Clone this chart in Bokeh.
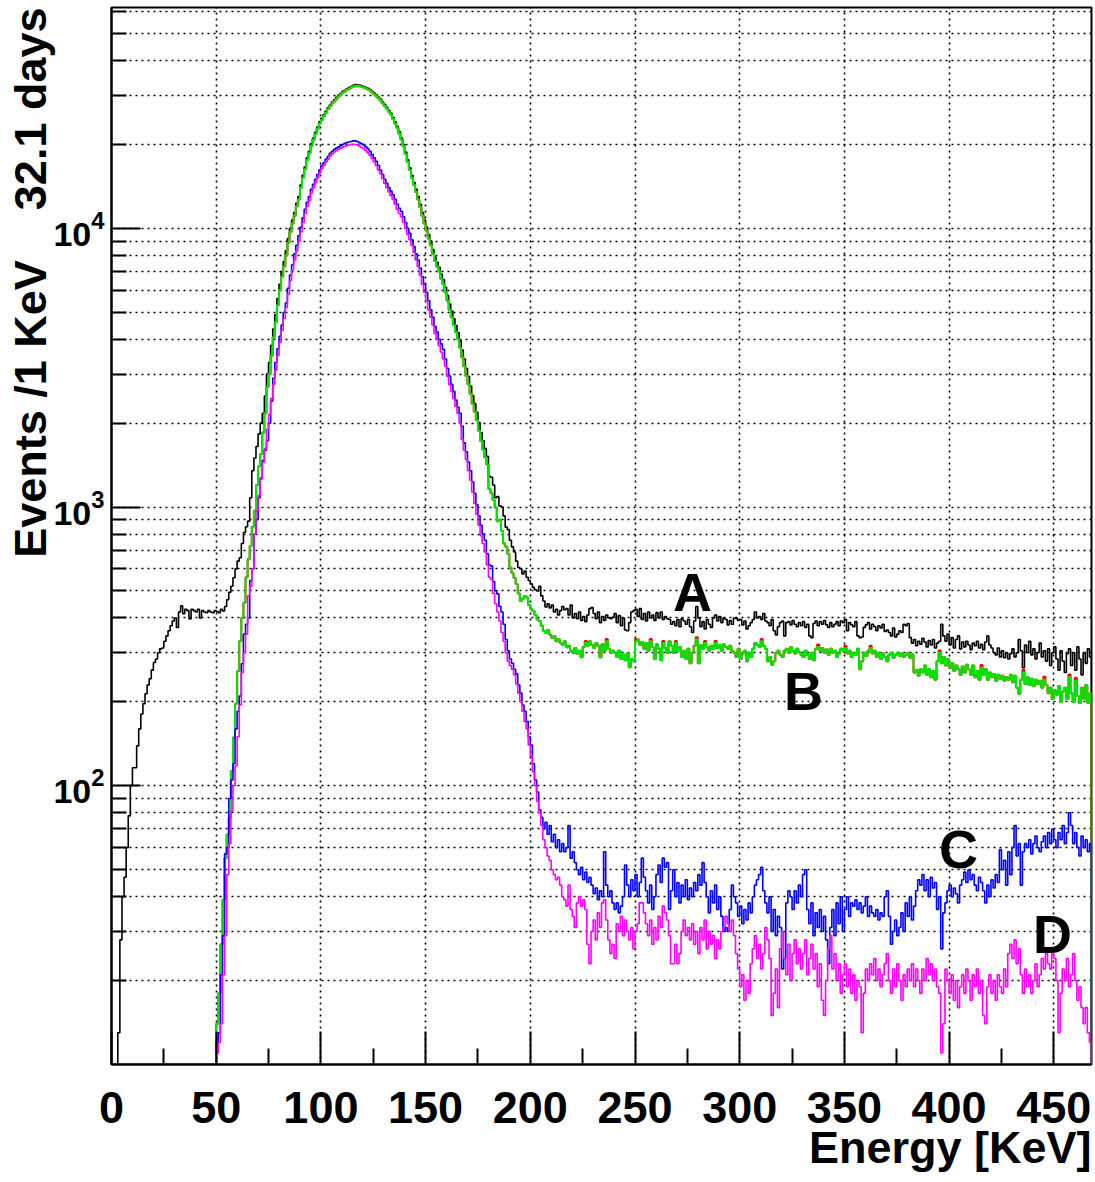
import numpy as np
from bokeh.plotting import figure
from bokeh.models import FixedTicker, LogTickFormatter, Title, Range1d
from bokeh.embed import file_html
from bokeh.resources import INLINE
from bokeh.core.properties import value

# ---------------- data (1 KeV bins, bin i = [i, i+1) KeV) ----------------
E_MIN, E_MAX, BIN_W = 0, 468, 1
Y_MIN, Y_MAX = 10, 62000

a_black = [0, 0, 0, 13, 28, 40, 47, 60, 78, 100,
    116, 116, 139, 160, 181, 197, 214, 230, 242, 260,
    277, 285, 300, 310, 312, 330, 345, 360, 375, 390,
    400, 370, 420, 442, 414, 430, 425, 397, 430, 425,
    420, 430, 400, 425, 420, 418, 425, 420, 418, 425,
    422, 418, 430, 424, 440, 465, 495, 520, 558, 600,
    640, 658, 740, 810, 850, 890, 1080, 1350, 1500, 1650,
    1830, 2000, 2170, 2500, 3000, 3300, 3800, 4350, 4900, 5600,
    6300, 7000, 7600, 8300, 9200, 10000, 10700, 11400, 12300, 13000,
    14300, 15500, 16600, 17900, 18900, 20100, 21100, 22100, 23100, 24100,
    24800, 25600, 26300, 27100, 27700, 28400, 28900, 29500, 30000, 30500,
    31000, 31300, 31700, 32000, 32300, 32600, 32800, 32700, 32700, 32500,
    32300, 32100, 31800, 31500, 31000, 30600, 30100, 29600, 29100, 28400,
    27800, 27200, 26500, 25900, 25000, 24100, 23200, 22200, 21100, 20000,
    18800, 17600, 16500, 15500, 14600, 13800, 13000, 12200, 11400, 10700,
    10100, 9500, 9000, 8400, 7900, 7550, 7250, 6850, 6550, 6150,
    5750, 5350, 5050, 4750, 4480, 4230, 3950, 3660, 3400, 3140,
    2940, 2720, 2510, 2350, 2190, 2010, 1850, 1730, 1620, 1520,
    1290, 1280, 1200, 1080, 1090, 1010, 1000, 930, 847, 830,
    760, 720, 690, 640, 607, 600, 575, 590, 560, 545,
    530, 515, 505, 500, 520, 480, 460, 438, 450, 435,
    445, 420, 430, 410, 425, 440, 428, 432, 410, 445,
    400, 415, 398, 420, 392, 405, 388, 410, 432, 436,
    415, 398, 420, 385, 405, 392, 410, 400, 398, 402,
    415, 385, 408, 375, 400, 362, 360, 385, 420, 425,
    430, 405, 432, 395, 415, 390, 420, 400, 410, 392,
    418, 400, 420, 395, 405, 398, 395, 380, 388, 375,
    395, 372, 398, 390, 380, 395, 372, 355, 390, 440,
    400, 372, 388, 365, 395, 380, 370, 400, 410, 390,
    405, 385, 400, 395, 378, 392, 380, 400, 398, 392,
    395, 378, 390, 365, 375, 385, 395, 420, 400, 405,
    395, 415, 390, 385, 375, 395, 360, 348, 372, 385,
    390, 345, 385, 388, 378, 392, 380, 372, 385, 375,
    388, 370, 380, 345, 340, 382, 390, 375, 388, 380,
    392, 378, 370, 385, 372, 380, 388, 375, 390, 385,
    395, 360, 385, 378, 372, 388, 345, 340, 342, 370,
    378, 385, 365, 380, 372, 360, 375, 368, 380, 358,
    362, 355, 345, 368, 342, 350, 360, 355, 380, 375,
    382, 340, 325, 335, 318, 330, 322, 338, 328, 315,
    332, 320, 335, 312, 325, 330, 380, 345, 330, 350,
    320, 340, 312, 335, 345, 310, 328, 315, 330, 320,
    308, 325, 318, 330, 312, 322, 308, 328, 345, 320,
    312, 300, 295, 312, 290, 305, 288, 300, 285, 298,
    310, 290, 300, 335, 305, 265, 320, 300, 330, 295,
    310, 285, 300, 325, 290, 305, 280, 310, 270, 300,
    315, 285, 260, 305, 280, 255, 298, 310, 270, 300,
    260, 315, 285, 250, 300, 275, 310, 290]

b_green = [0] * 50 + [14, 18, 27, 39, 55, 67, 77, 113, 149, 197,
    258, 330, 400, 454, 560, 650, 725, 850, 970, 1200,
    1400, 1550, 1850, 2170, 2700, 3000, 3500, 4070, 4600, 5300,
    6000, 6700, 7300, 8000, 8900, 9700, 10400, 11100, 12000, 12700,
    14000, 15200, 16300, 17600, 18600, 19800, 20800, 21800, 22800, 23800,
    24500, 25300, 26000, 26800, 27400, 28100, 28600, 29200, 29700, 30200,
    30700, 31000, 31400, 31700, 32000, 32300, 32500, 32400, 32400, 32200,
    32000, 31800, 31500, 31200, 30700, 30300, 29800, 29300, 28800, 28100,
    27500, 26900, 26200, 25600, 24700, 23800, 22900, 21900, 20800, 19700,
    18500, 17300, 16200, 15200, 14300, 13500, 12700, 11900, 11100, 10400,
    9800, 9200, 8700, 8100, 7640, 7300, 7000, 6600, 6300, 5900,
    5500, 5100, 4800, 4500, 4250, 4000, 3730, 3450, 3200, 2950,
    2760, 2550, 2350, 2200, 2050, 1880, 1730, 1610, 1510, 1420,
    1160, 1120, 1060, 995, 890, 900, 820, 740, 720, 680,
    607, 580, 558, 530, 490, 460, 470, 480, 474, 445,
    430, 424, 410, 395, 390, 375, 360, 354, 362, 348,
    340, 345, 330, 336, 325, 320, 330, 314, 318, 305,
    300, 312, 298, 305, 289, 315, 325, 318, 330, 320,
    312, 325, 318, 289, 322, 305, 330, 310, 300, 305,
    300, 290, 305, 285, 295, 282, 298, 266, 285, 280,
    330, 335, 320, 328, 310, 325, 305, 330, 315, 285,
    322, 310, 282, 325, 312, 300, 330, 318, 300, 325,
    305, 315, 290, 305, 285, 310, 275, 300, 318, 335,
    275, 320, 310, 325, 315, 305, 318, 310, 325, 312,
    320, 305, 322, 315, 310, 318, 305, 300, 290, 310,
    285, 298, 305, 280, 300, 290, 310, 325, 320, 315,
    330, 318, 310, 280, 290, 272, 280, 300, 305, 295,
    290, 305, 310, 300, 315, 305, 298, 310, 302, 295,
    290, 305, 295, 285, 300, 282, 310, 315, 305, 312,
    300, 308, 295, 310, 300, 305, 290, 298, 310, 305,
    312, 298, 305, 290, 300, 295, 310, 262, 280, 300,
    292, 305, 312, 298, 305, 290, 300, 285, 298, 290,
    280, 295, 300, 288, 295, 300, 292, 298, 290, 295,
    300, 288, 296, 255, 260, 248, 262, 255, 270, 250,
    262, 245, 258, 240, 280, 300, 275, 290, 270, 285,
    265, 275, 258, 270, 262, 250, 268, 255, 272, 262,
    250, 270, 245, 258, 240, 265, 250, 262, 240, 255,
    245, 252, 238, 250, 242, 248, 238, 245, 240, 250,
    235, 248, 225, 214, 240, 255, 232, 245, 230, 242,
    228, 240, 232, 238, 225, 240, 230, 215, 225, 205,
    220, 212, 228, 200, 218, 225, 205, 245, 215, 200,
    238, 210, 198, 225, 205, 230, 198, 215]

# red histogram: identical to green except a few bins where it is slightly higher
b_red_peaks = {226: 331, 236: 336, 250: 336, 257: 336, 263: 331, 269: 331,
               279: 341, 283: 331, 288: 331, 310: 336, 337: 321, 350: 318,
               362: 318, 395: 306, 415: 271, 435: 261, 445: 246, 457: 251, 460: 244}

c_blue = [0] * 50 + [12, 13, 21, 29, 57, 60, 90, 105, 120, 160,
    185, 210, 274, 350, 380, 400, 545, 600, 800, 900,
    1080, 1270, 1470, 1600, 1730, 2000, 2400, 2900, 3300, 3700,
    4100, 4500, 5000, 5400, 6100, 6800, 7400, 8100, 8700, 9400,
    10100, 10900, 11700, 12400, 13000, 13800, 14400, 15000, 15600, 16200,
    16800, 17200, 17700, 18100, 18600, 18900, 19200, 19400, 19600, 19800,
    20000, 20200, 20300, 20400, 20500, 20600, 20600, 20500, 20300, 20100,
    19900, 19600, 19300, 18900, 18400, 17900, 17400, 16800, 16200, 15600,
    15000, 14500, 14000, 13600, 13200, 12700, 12200, 11800, 11500, 11000,
    10500, 10000, 9600, 9100, 8600, 8100, 7700, 7200, 6700, 6300,
    5900, 5500, 5100, 4800, 4450, 4250, 4000, 3850, 3680, 3400,
    3150, 2950, 2760, 2600, 2420, 2280, 2170, 1950, 1700, 1580,
    1450, 1350, 1230, 1120, 1020, 930, 860, 800, 760, 680,
    620, 615, 540, 500, 488, 440, 420, 380, 335, 305,
    285, 275, 262, 252, 230, 215, 195, 185, 170, 150,
    140, 120, 105, 95, 82, 77, 70, 74, 67, 72,
    63, 67, 60, 64, 58, 62, 58, 60, 72, 55,
    58, 53, 50, 48, 51, 46, 49, 45, 47, 44,
    41, 43, 39, 42, 40, 58, 44, 40, 42, 38,
    36, 38, 35, 37, 40, 52, 44, 40, 46, 42,
    48, 40, 45, 55, 47, 42, 38, 44, 36, 40,
    48, 52, 45, 55, 51, 53, 36, 42, 50, 40,
    45, 38, 44, 40, 46, 39, 43, 40, 45, 42,
    48, 44, 53, 45, 40, 35, 42, 38, 44, 36,
    40, 34, 30, 31, 30, 36, 44, 40, 38, 34,
    37, 32, 36, 33, 38, 35, 40, 44, 46, 48,
    51, 42, 38, 35, 40, 30, 36, 29, 34, 31,
    22, 24, 38, 42, 40, 36, 42, 38, 44, 40,
    48, 50, 36, 32, 38, 29, 35, 31, 36, 30,
    34, 28, 23, 31, 36, 29, 38, 32, 40, 30,
    36, 40, 34, 38, 37, 39, 36, 38, 35, 37,
    40, 34, 37, 35, 34, 36, 33, 35, 34, 40,
    42, 34, 27, 30, 33, 29, 31, 35, 30, 38,
    34, 40, 33, 37, 42, 46, 44, 48, 42, 46,
    40, 47, 43, 45, 36, 40, 26, 35, 38, 42,
    44, 40, 43, 41, 38, 44, 46, 49, 45, 50,
    46, 48, 44, 42, 47, 45, 42, 38, 44, 40,
    46, 43, 48, 45, 59, 50, 54, 44, 58, 48,
    60, 72, 56, 62, 44, 58, 62, 60, 64, 57,
    62, 66, 60, 58, 63, 66, 60, 68, 62, 70,
    64, 60, 68, 64, 72, 62, 68, 80, 72, 62,
    68, 60, 56, 66, 60, 64, 58, 62]

d_magenta = [0] * 50 + [11, 12, 14, 21, 29, 48, 62, 81, 100, 118,
    150, 195, 255, 300, 350, 480, 520, 600, 800, 970,
    1100, 1260, 1450, 1620, 1900, 2150, 2450, 2750, 3100, 3500,
    3900, 4300, 4750, 5200, 5800, 6500, 7100, 7700, 8300, 9000,
    9700, 10500, 11300, 12000, 12600, 13400, 14000, 14600, 15200, 15800,
    16400, 16800, 17300, 17700, 18200, 18500, 18800, 19000, 19200, 19400,
    19600, 19700, 19800, 19900, 20000, 20000, 20000, 19900, 19700, 19500,
    19300, 19000, 18700, 18300, 17800, 17300, 16800, 16200, 15700, 15100,
    14500, 14000, 13500, 13100, 12700, 12200, 11700, 11300, 11000, 10500,
    10000, 9500, 9100, 8700, 8200, 7700, 7300, 6800, 6300, 5900,
    5500, 5100, 4800, 4500, 4200, 4000, 3800, 3600, 3400, 3200,
    2950, 2750, 2600, 2450, 2300, 2170, 2000, 1750, 1600, 1480,
    1350, 1250, 1130, 1030, 940, 860, 790, 740, 690, 620,
    560, 550, 490, 450, 420, 390, 355, 330, 300, 280,
    270, 262, 250, 232, 215, 200, 185, 170, 160, 140,
    128, 112, 100, 88, 80, 72, 64, 60, 56, 54,
    50, 48, 46, 47, 44, 40, 39, 37, 44, 36,
    34, 31, 38, 40, 37, 39, 36, 27, 23, 30,
    33, 28, 35, 31, 38, 39, 33, 28, 25, 27,
    24, 32, 30, 34, 29, 33, 30, 28, 31, 26,
    30, 32, 38, 38, 35, 32, 29, 33, 27, 31,
    28, 34, 31, 37, 35, 33, 29, 23, 23, 27,
    23, 25, 30, 33, 29, 31, 28, 32, 27, 30,
    25, 31, 28, 33, 26, 30, 27, 29, 24, 28,
    26, 30, 31, 34, 32, 30, 33, 29, 25, 22,
    19, 21, 17, 20, 18, 23, 26, 29, 24, 27,
    22, 25, 31, 28, 24, 15, 18, 22, 16, 26,
    30, 24, 21, 27, 20, 25, 28, 23, 26, 22,
    25, 28, 21, 24, 27, 22, 25, 19, 23, 17,
    15, 20, 26, 29, 22, 25, 20, 23, 18, 21,
    23, 19, 22, 18, 21, 17, 20, 19, 13, 18,
    22, 20, 23, 21, 24, 20, 22, 19, 21, 23,
    25, 20, 18, 22, 19, 23, 20, 17, 21, 19,
    22, 20, 23, 19, 22, 20, 18, 22, 20, 24,
    21, 23, 20, 22, 19, 18, 11, 14, 22, 20,
    18, 21, 17, 20, 16, 19, 21, 18, 22, 20,
    17, 21, 19, 22, 18, 20, 15, 14, 19, 21,
    18, 20, 17, 21, 19, 18, 22, 19, 25, 27,
    24, 28, 23, 26, 21, 18, 22, 19, 21, 18,
    20, 23, 19, 21, 24, 22, 25, 23, 22, 25,
    24, 20, 13, 18, 22, 20, 24, 19, 21, 25,
    20, 17, 19, 16, 14, 16, 13, 12]

b_red = list(b_green)
for k, v in b_red_peaks.items():
    b_red[k] = v

label_text = ["A", "B", "C", "D"]
label_x = [277.5, 330.5, 404.5, 449.4]
label_y = [497, 219, 59.5, 29.4]

x_major = list(range(0, 451, 50))
x_minor = list(range(25, 451, 50))
y_major = [100, 1000, 10000]
y_minor = [m * 10 ** k for k in (1, 2, 3) for m in range(2, 10)] + [20000, 30000, 40000, 50000, 60000]

x_title = "Energy [KeV]"
y_title = "Events /1 KeV\u00a0\u00a0\u00a0\u00a032.1 days"

FONT = "Liberation Sans"


def step_path(vals):
    v = np.maximum(np.asarray(vals, dtype=float), Y_MIN)
    edges = E_MIN + BIN_W * np.arange(len(v) + 1)
    xs = np.repeat(edges, 2)[1:-1]
    ys = np.repeat(v, 2)
    xs = np.concatenate([[edges[0]], xs, [edges[-1]]])
    ys = np.concatenate([[Y_MIN], ys, [Y_MIN]])
    return xs, ys


p = figure(width=1094, height=1182,
           x_range=Range1d(E_MIN, E_MAX), y_range=Range1d(Y_MIN, Y_MAX),
           y_axis_type="log", output_backend="svg", toolbar_location=None,
           min_border_left=111, min_border_right=3, min_border_top=7,
           min_border_bottom=118)
p.background_fill_color = "white"
p.border_fill_color = "white"
p.outline_line_color = "black"
p.outline_line_width = 2

xt = FixedTicker(ticks=x_major, minor_ticks=x_minor)
yt = FixedTicker(ticks=y_major, minor_ticks=y_minor)

xa = p.xaxis[0]
xa.ticker = xt
ya = p.yaxis[0]
ya.ticker = yt
ya.formatter = LogTickFormatter()

for ax in (xa, ya):
    ax.major_label_text_font = FONT
    ax.major_label_text_font_style = "bold"
    ax.major_label_text_color = "black"
    ax.major_tick_out = 0
    ax.minor_tick_out = 0
    ax.major_tick_line_width = 2
    ax.minor_tick_line_width = 2
    ax.major_tick_line_color = "black"
    ax.minor_tick_line_color = "black"
    ax.axis_line_width = 2
    ax.axis_line_color = "black"

xa.major_label_text_font_size = "45px"
xa.major_label_standoff = 27
xa.major_tick_in = 33
xa.minor_tick_in = 16
ya.major_label_text_font_size = "34px"
ya.major_label_standoff = 7
ya.major_tick_in = 29
ya.minor_tick_in = 15

p.xgrid.ticker = FixedTicker(ticks=x_major[1:])
p.ygrid.ticker = yt
for g in (p.xgrid, p.ygrid):
    g.grid_line_color = "black"
    g.grid_line_dash = "2 4"
    g.grid_line_width = 1.6
p.ygrid.minor_grid_line_color = "black"
p.ygrid.minor_grid_line_dash = "2 4"
p.ygrid.minor_grid_line_width = 1.6

series = [(a_black, "#000000", 1.6), (b_red, "#ff0000", 2.0), (b_green, "#00e600", 2.0),
          (c_blue, "#0000ff", 1.6), (d_magenta, "#ff00ff", 1.6)]
for vals, col, lw in series:
    xs, ys = step_path(vals)
    p.line(xs, ys, line_color=col, line_width=lw)

p.text(x=label_x, y=label_y, text=label_text, text_font=value(FONT),
       text_font_style="bold", text_font_size="54px", text_align="center",
       text_baseline="middle", text_color="black")

ty = Title(text=y_title, align="right", text_font=FONT, text_font_style="bold",
           text_font_size="45px", text_color="black", standoff=-10, offset=0)
p.add_layout(ty, "left")
tx = Title(text=x_title, align="right", text_font=FONT, text_font_style="bold",
           text_font_size="45px", text_color="black", standoff=-11, offset=0)
p.add_layout(tx, "below")

open("out.html", "w").write(file_html(p, INLINE))
